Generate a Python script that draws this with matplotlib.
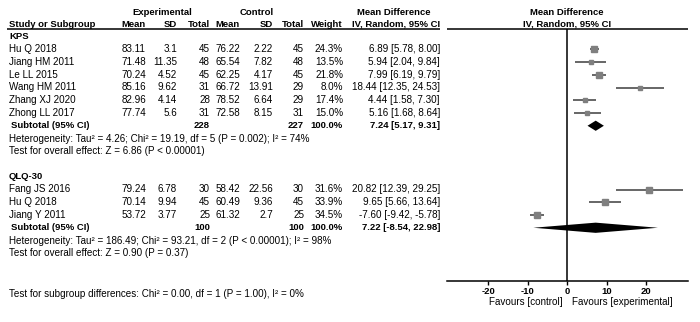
import matplotlib.pyplot as plt
from matplotlib.patches import Polygon

# --- data ---
GROUPS = ['KPS', 'QLQ-30']

KPS_STUDY = ['Hu Q 2018', 'Jiang HM 2011', 'Le LL 2015', 'Wang HM 2011',
             'Zhang XJ 2020', 'Zhong LL 2017']
KPS_EXP_MEAN = ['83.11', '71.48', '70.24', '85.16', '82.96', '77.74']
KPS_EXP_SD = ['3.1', '11.35', '4.52', '9.62', '4.14', '5.6']
KPS_EXP_N = [45, 48, 45, 31, 28, 31]
KPS_CTL_MEAN = ['76.22', '65.54', '62.25', '66.72', '78.52', '72.58']
KPS_CTL_SD = ['2.22', '7.82', '4.17', '13.91', '6.64', '8.15']
KPS_CTL_N = [45, 48, 45, 29, 29, 31]
KPS_WEIGHT = [24.3, 13.5, 21.8, 8.0, 17.4, 15.0]
KPS_MD = [6.89, 5.94, 7.99, 18.44, 4.44, 5.16]
KPS_LO = [5.78, 2.04, 6.19, 12.35, 1.58, 1.68]
KPS_HI = [8.00, 9.84, 9.79, 24.53, 7.30, 8.64]
KPS_TOTAL = (228, 227, 7.24, 5.17, 9.31)
KPS_HET = 'Heterogeneity: Tau\u00b2 = 4.26; Chi\u00b2 = 19.19, df = 5 (P = 0.002); I\u00b2 = 74%'
KPS_Z = 'Test for overall effect: Z = 6.86 (P < 0.00001)'

QLQ_STUDY = ['Fang JS 2016', 'Hu Q 2018', 'Jiang Y 2011']
QLQ_EXP_MEAN = ['79.24', '70.14', '53.72']
QLQ_EXP_SD = ['6.78', '9.94', '3.77']
QLQ_EXP_N = [30, 45, 25]
QLQ_CTL_MEAN = ['58.42', '60.49', '61.32']
QLQ_CTL_SD = ['22.56', '9.36', '2.7']
QLQ_CTL_N = [30, 45, 25]
QLQ_WEIGHT = [31.6, 33.9, 34.5]
QLQ_MD = [20.82, 9.65, -7.60]
QLQ_LO = [12.39, 5.66, -9.42]
QLQ_HI = [29.25, 13.64, -5.78]
QLQ_TOTAL = (100, 100, 7.22, -8.54, 22.98)
QLQ_HET = 'Heterogeneity: Tau\u00b2 = 186.49; Chi\u00b2 = 93.21, df = 2 (P < 0.00001); I\u00b2 = 98%'
QLQ_Z = 'Test for overall effect: Z = 0.90 (P = 0.37)'

SUBGROUP_TEST = 'Test for subgroup differences: Chi\u00b2 = 0.00, df = 1 (P = 1.00), I\u00b2 = 0%'
XTICKS = [-20, -10, 0, 10, 20]

plt.rcParams['font.family'] = ['Liberation Sans', 'DejaVu Sans']
FS = 7.1   # body text
FSH = 6.8  # bold headers
W, H = 700, 322
ROW0, STEP = 36.5, 12.75


def row(px):
    return (px - ROW0) / STEP


fig = plt.figure(figsize=(W / 100, H / 100), dpi=100)
ax = fig.add_axes([0, 0, 1, 1])
ax.set_xlim(0, W)
ax.set_ylim(row(H), row(0))
ax.axis('off')

# forest panel
fx0, fx1, fy0, fy1 = 447, 688, 29, 281
fax = fig.add_axes([fx0 / W, (H - fy1) / H, (fx1 - fx0) / W, (fy1 - fy0) / H])
fax.set_facecolor('none')
fax.set_xlim(-30.4, 30.6)
fax.set_ylim(row(fy1), row(fy0))
for s in ('top', 'right', 'left'):
    fax.spines[s].set_visible(False)
fax.spines['bottom'].set_linewidth(1.1)
fax.set_yticks([])
fax.set_xticks(XTICKS)
fax.set_xticklabels([str(t) for t in XTICKS], fontsize=FSH, fontweight='bold')
fax.tick_params(axis='x', length=3, width=1, pad=1)
fax.axvline(0, color='black', lw=1.1)

# headers
ax.text(162, row(12.7), 'Experimental', fontsize=FSH, fontweight='bold', ha='center', va='center')
ax.text(257, row(12.7), 'Control', fontsize=FSH, fontweight='bold', ha='center', va='center')
ax.text(394, row(12.7), 'Mean Difference', fontsize=FSH, fontweight='bold', ha='center', va='center')
ax.text(567, row(12.7), 'Mean Difference', fontsize=FSH, fontweight='bold', ha='center', va='center')
hy = row(24.5)
ax.text(9, hy, 'Study or Subgroup', fontsize=FSH, fontweight='bold', va='center')
for x, t in [(146, 'Mean'), (177, 'SD'), (210, 'Total'), (240, 'Mean'),
             (273, 'SD'), (304, 'Total'), (343, 'Weight'), (440, 'IV, Random, 95% CI')]:
    ax.text(x, hy, t, fontsize=FSH, fontweight='bold', ha='right', va='center')
ax.text(567, hy, 'IV, Random, 95% CI', fontsize=FSH, fontweight='bold', ha='center', va='center')
ax.hlines(row(29), 7, 440, color='black', lw=1.1)
ax.hlines(row(29), fx0, fx1, color='black', lw=1.1)

groups = [
    (GROUPS[0], 0, KPS_STUDY, KPS_EXP_MEAN, KPS_EXP_SD, KPS_EXP_N, KPS_CTL_MEAN,
     KPS_CTL_SD, KPS_CTL_N, KPS_WEIGHT, KPS_MD, KPS_LO, KPS_HI, KPS_TOTAL, KPS_HET, KPS_Z),
    (GROUPS[1], 11, QLQ_STUDY, QLQ_EXP_MEAN, QLQ_EXP_SD, QLQ_EXP_N, QLQ_CTL_MEAN,
     QLQ_CTL_SD, QLQ_CTL_N, QLQ_WEIGHT, QLQ_MD, QLQ_LO, QLQ_HI, QLQ_TOTAL, QLQ_HET, QLQ_Z),
]

for (name, r0, study, em, esd, en, cm, csd, cn, wt, md, lo, hi, tot, het, z) in groups:
    ax.text(9, r0, name, fontsize=FSH, fontweight='bold', va='center')
    for i in range(len(study)):
        y = r0 + 1 + i
        ax.text(9, y, study[i], fontsize=FS, va='center')
        cells = [(146, em[i]), (177, esd[i]), (210, str(en[i])), (240, cm[i]),
                 (273, csd[i]), (304, str(cn[i])), (343, f'{wt[i]:.1f}%'),
                 (440, f'{md[i]:.2f} [{lo[i]:.2f}, {hi[i]:.2f}]')]
        for x, t in cells:
            ax.text(x, y, t, fontsize=FS, ha='right', va='center')
        fax.plot([lo[i], hi[i]], [y, y], color='#4d4d4d', lw=1.2, solid_capstyle='butt')
        fax.plot(md[i], y, marker='s', color='#7f7f7f', mec='#7f7f7f',
                 ms=0.85 * wt[i] ** 0.5, ls='none')
    ys = r0 + 1 + len(study)
    ne, nc, m, l, h = tot
    ax.text(11, ys, 'Subtotal (95% CI)', fontsize=FSH, fontweight='bold', va='center')
    for x, t in [(210, str(ne)), (304, str(nc)), (343, '100.0%'),
                 (440, f'{m:.2f} [{l:.2f}, {h:.2f}]')]:
        ax.text(x, ys, t, fontsize=FSH, fontweight='bold', ha='right', va='center')
    fax.add_patch(Polygon([(l, ys), (m, ys - 0.4), (h, ys), (m, ys + 0.4)],
                          closed=True, color='black', lw=0))
    ax.text(9, ys + 1, het, fontsize=FS, va='center')
    ax.text(9, ys + 2, z, fontsize=FS, va='center')

ax.text(9, row(294), SUBGROUP_TEST, fontsize=FS, va='center')
ax.text(563, row(302), 'Favours [control]', fontsize=FS, ha='right', va='center')
ax.text(572, row(302), 'Favours [experimental]', fontsize=FS, ha='left', va='center')

fig.savefig('out.png', dpi=100)
